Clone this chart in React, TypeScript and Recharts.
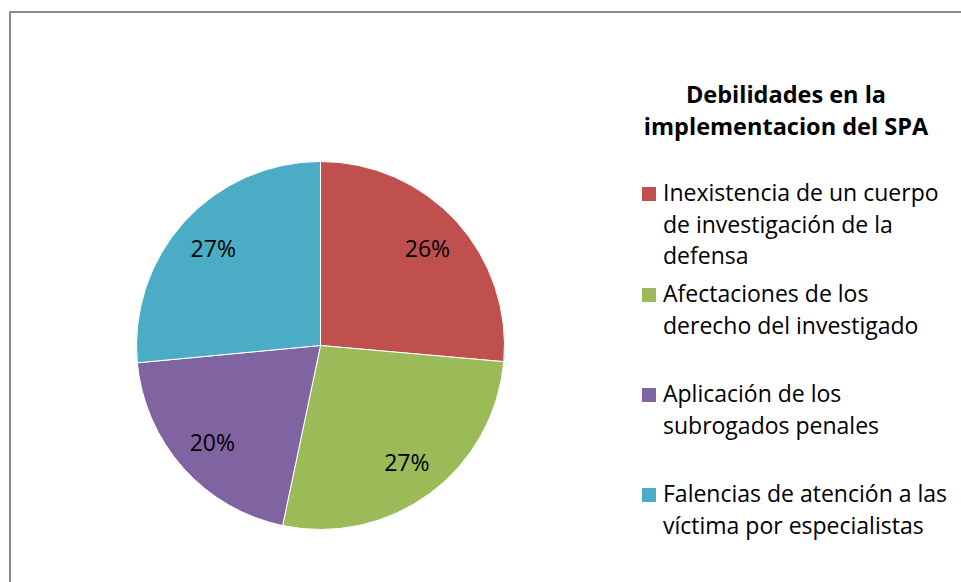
import React from "react";
import { PieChart, Pie, Cell, Legend } from "recharts";

const categories = [
  "Inexistencia de un cuerpo de investigación de la defensa",
  "Afectaciones de los derecho del investigado",
  "Aplicación de los subrogados penales",
  "Falencias de atención a las víctima por especialistas",
];
const values = [26.4, 26.9, 20.2, 26.5];
const colors = ["#C0504D", "#9BBB59", "#8064A2", "#4BACC6"];
const legendLines = [
  ["Inexistencia de un cuerpo", "de investigación de la", "defensa"],
  ["Afectaciones de los", "derecho del investigado"],
  ["Aplicación de los", "subrogados penales"],
  ["Falencias de atención a las", "víctima por especialistas"],
];
const titleLines = ["Debilidades en la", "implementacion del SPA"];

const data = categories.map((name, i) => ({ name, value: values[i] }));

const FONT = "'Open Sans', Lato, sans-serif";
const RAD = Math.PI / 180;

const renderLabel = (props: any) => {
  const { cx, cy, midAngle, percent } = props;
  const r = 145;
  const x = cx + r * Math.cos(-midAngle * RAD);
  const y = cy + r * Math.sin(-midAngle * RAD);
  return (
    <text
      x={x}
      y={y}
      textAnchor="middle"
      dominantBaseline="central"
      fontFamily={FONT}
      fontSize={23}
      fill="#000"
    >
      {`${Math.round(percent * 100)}%`}
    </text>
  );
};

const itemBaselines = [201, 302, 402, 502];
const LEG_LEFT = 620;
const LEG_TOP = 60;

const renderLegend = () => (
  <svg width={341} height={500} style={{ display: "block" }}>
    {titleLines.map((t, i) => (
      <text
        key={t}
        x={786 - LEG_LEFT}
        y={103 + i * 32 - LEG_TOP}
        textAnchor="middle"
        fontFamily={FONT}
        fontWeight="bold"
        fontSize={23.5}
        fill="#000"
      >
        {t}
      </text>
    ))}
    {legendLines.map((lines, i) => (
      <g key={i}>
        <rect
          x={642 - LEG_LEFT}
          y={itemBaselines[i] - 14 - LEG_TOP}
          width={14}
          height={14}
          fill={colors[i]}
        />
        {lines.map((ln, j) => (
          <text
            key={j}
            x={663 - LEG_LEFT}
            y={itemBaselines[i] + j * 31.5 - LEG_TOP}
            fontFamily={FONT}
            fontSize={23}
            fill="#000"
          >
            {ln}
          </text>
        ))}
      </g>
    ))}
  </svg>
);

export default function App() {
  return (
    <div
      style={{
        position: "absolute",
        left: 0,
        top: 0,
        width: 961,
        height: 582,
        background: "#fff",
        overflow: "hidden",
      }}
    >
      <div
        style={{
          position: "absolute",
          left: 9,
          top: 11,
          width: 980,
          height: 600,
          borderTop: "2px solid #898989",
          borderLeft: "2px solid #898989",
        }}
      />
      <div style={{ position: "absolute", left: 0, top: 0 }}>
        <PieChart
          width={961}
          height={582}
          margin={{ top: 0, right: 0, bottom: 0, left: 0 }}
        >
          <Pie
            data={data}
            dataKey="value"
            nameKey="name"
            cx={320.5}
            cy={345.5}
            outerRadius={184}
            startAngle={90}
            endAngle={-270}
            stroke="#ffffff"
            strokeWidth={1}
            label={renderLabel}
            labelLine={false}
            isAnimationActive={false}
          >
            {data.map((d, i) => (
              <Cell key={d.name} fill={colors[i]} />
            ))}
          </Pie>
          <Legend
            content={renderLegend}
            wrapperStyle={{
              position: "absolute",
              left: LEG_LEFT,
              top: LEG_TOP,
              width: 341,
              height: 500,
              right: "auto",
              bottom: "auto",
            }}
          />
        </PieChart>
      </div>
    </div>
  );
}
